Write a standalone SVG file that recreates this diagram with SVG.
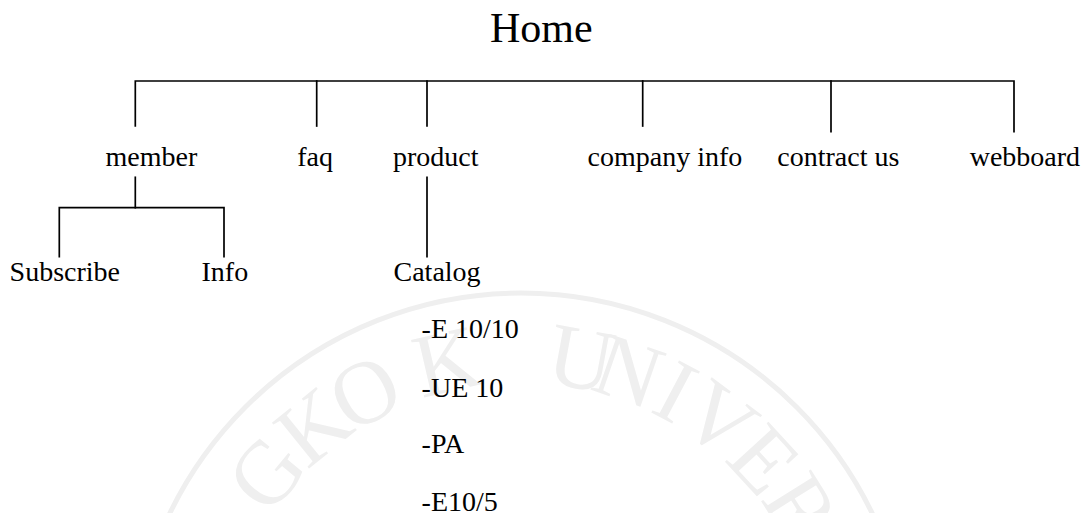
<svg xmlns="http://www.w3.org/2000/svg" width="1082" height="513" viewBox="0 0 1082 513">
  <style>
    .lbl { font-family: "Liberation Serif", "Times New Roman", serif; font-size: 28px; fill: #000; }
    .home { font-family: "Liberation Serif", "Times New Roman", serif; font-size: 42px; fill: #000; }
    .wm { font-family: "Liberation Serif", "Times New Roman", serif; font-size: 90px; fill: #efefef; text-anchor: middle; }
    .conn { stroke: #000; stroke-width: 1.7; fill: none; stroke-linecap: square; }
  </style>
  <rect width="1082" height="513" fill="#fff"/>

  <g id="watermark">
    <circle cx="521" cy="683" r="390" fill="none" stroke="#efefef" stroke-width="5"/>
    <text class="wm" x="521" y="383" transform="rotate(-50.5 521 683)">G</text>
    <text class="wm" x="521" y="383" transform="rotate(-39 521 683)">K</text>
    <text class="wm" x="521" y="383" transform="rotate(-28.2 521 683)">O</text>
    <text class="wm" x="521" y="383" transform="rotate(-13 521 683)">K</text>
    <text class="wm" x="521" y="383" transform="rotate(10.5 521 683)">U</text>
    <text class="wm" x="521" y="383" transform="rotate(19 521 683)">N</text>
    <text class="wm" x="521" y="383" transform="rotate(28 521 683)">I</text>
    <text class="wm" x="521" y="383" transform="rotate(37 521 683)">V</text>
    <text class="wm" x="521" y="383" transform="rotate(47.4 521 683)">E</text>
    <text class="wm" x="521" y="383" transform="rotate(58 521 683)">R</text>
  </g>

  <g id="connectors" class="conn">
    <path d="M135.3 126 V81 H1014 V131.7"/>
    <path d="M316.7 81 V126"/>
    <path d="M427 81 V126"/>
    <path d="M642.7 81 V126"/>
    <path d="M831 81 V131.7"/>
    <path d="M135.3 177.3 V207.7"/>
    <path d="M59.3 256.7 V207.7 H224 V256.7"/>
    <path d="M427 177.3 V256.7"/>
  </g>

  <g id="node-home"><text class="home" x="490" y="41.7">Home</text></g>
  <g id="node-member"><text class="lbl" x="105.5" y="166">member</text></g>
  <g id="node-faq"><text class="lbl" x="297.2" y="166">faq</text></g>
  <g id="node-product"><text class="lbl" x="393" y="166">product</text></g>
  <g id="node-company-info"><text class="lbl" x="587.5" y="166">company info</text></g>
  <g id="node-contract-us"><text class="lbl" x="777.3" y="166">contract us</text></g>
  <g id="node-webboard"><text class="lbl" x="969.7" y="166">webboard</text></g>
  <g id="node-subscribe"><text class="lbl" x="9.6" y="281">Subscribe</text></g>
  <g id="node-info"><text class="lbl" x="201.5" y="281">Info</text></g>
  <g id="node-catalog">
    <text class="lbl" x="393.5" y="281">Catalog</text>
    <text class="lbl" x="421.6" y="338.3">-E 10/10</text>
    <text class="lbl" x="421.6" y="396.7">-UE 10</text>
    <text class="lbl" x="421.6" y="453.3">-PA</text>
    <text class="lbl" x="421.6" y="510.7">-E10/5</text>
  </g>
</svg>
